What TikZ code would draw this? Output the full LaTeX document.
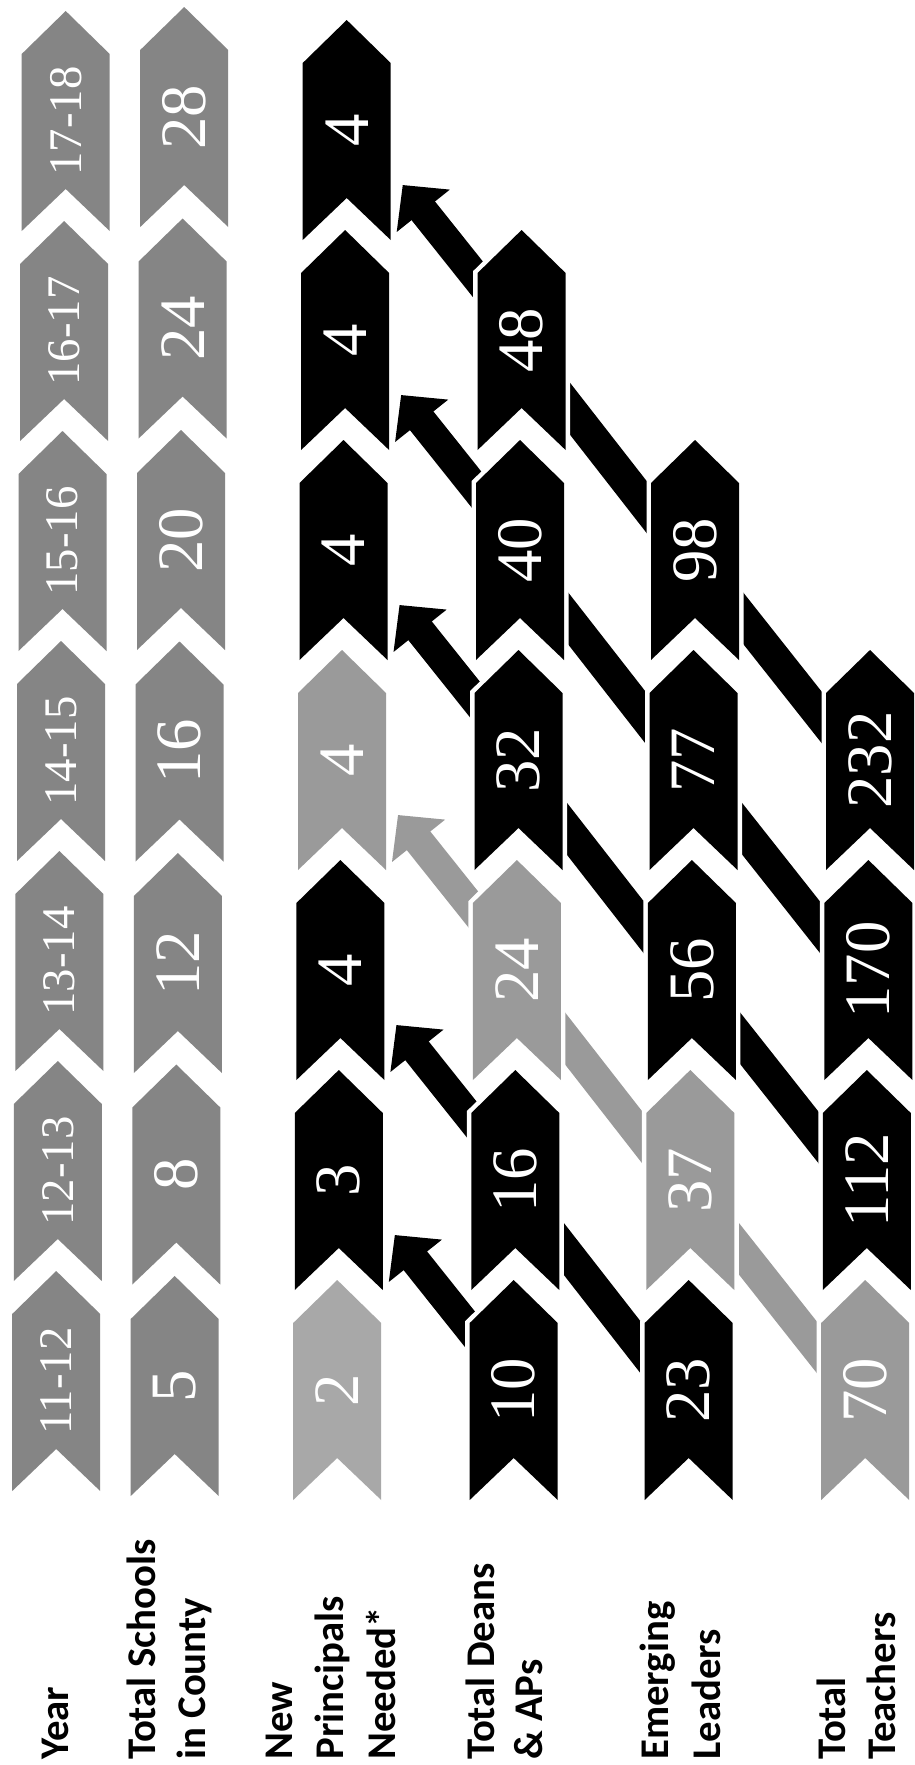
\documentclass[tikz,border=0pt]{standalone}
\usepackage{fontspec}
\newfontfamily\numfont{Liberation Serif}
\newfontfamily\lblfont{Carlito}
\usetikzlibrary{arrows.meta,calc}
\pgfdeclarelayer{bg}
\pgfdeclarelayer{links}
\pgfsetlayers{bg,links,main}
\definecolor{gyear}{HTML}{858585}
\definecolor{glight}{HTML}{A8A8A8}
\definecolor{gmid}{HTML}{9A9A9A}
\tikzset{
  chevfill/.style={fill=#1, preaction={draw=white, line width=0.18cm, line join=miter}},
  numtext/.style={text=white, inner sep=0pt, rotate=90, font=\numfont\fontsize{36.85pt}{40pt}\selectfont},
  yeartext/.style={text=white, inner sep=0pt, rotate=90, font=\numfont\fontsize{26.6pt}{30pt}\selectfont},
  lbltext/.style={text=black, inner sep=0pt, rotate=90, anchor=base west, font=\lblfont\bfseries\fontsize{23.2pt}{26pt}\selectfont},
  promote/.style={draw=#1, line width=0.6cm, -{Triangle[length=6.6mm,width=13.2mm]}},
  feeder/.style={draw=#1, line width=0.64cm},
}
\newcommand{\chev}[6]{%
  \path[chevfill=#4] (#2,#3) -- ++(44,43) -- ++(0,177) -- ++(-44,-42) -- ++(-44,42) -- ++(0,-177) -- cycle;
  \node[#5] (#1) at (#2,#3+110) {#6};
}
\begin{document}
\begin{tikzpicture}[x=0.02cm,y=-0.02cm]
\begin{pgfonlayer}{bg}
\fill[white] (0,0) rectangle (914,1765);
\end{pgfonlayer}
\useasboundingbox (0,0) rectangle (914,1765);

% Year column
\chev{y0}{65.7}{11}{gyear}{yeartext}{17-18}
\chev{y1}{64.1}{221}{gyear}{yeartext}{16-17}
\chev{y2}{62.5}{431}{gyear}{yeartext}{15-16}
\chev{y3}{61}{641}{gyear}{yeartext}{14-15}
\chev{y4}{59.4}{851}{gyear}{yeartext}{13-14}
\chev{y5}{57.8}{1061}{gyear}{yeartext}{12-13}
\chev{y6}{56.2}{1271}{gyear}{yeartext}{11-12}
% Total schools
\chev{s0}{184.2}{7}{gyear}{numtext}{28}
\chev{s1}{182.6}{218.5}{gyear}{numtext}{24}
\chev{s2}{181}{430}{gyear}{numtext}{20}
\chev{s3}{179.5}{641.5}{gyear}{numtext}{16}
\chev{s4}{177.9}{853}{gyear}{numtext}{12}
\chev{s5}{176.3}{1064.5}{gyear}{numtext}{8}
\chev{s6}{174.7}{1276}{gyear}{numtext}{5}
% New principals
\chev{p0}{346.7}{20}{black}{numtext}{4}
\chev{p1}{345.1}{230}{black}{numtext}{4}
\chev{p2}{343.5}{440}{black}{numtext}{4}
\chev{p3}{342}{650}{gmid}{numtext}{4}
\chev{p4}{340.4}{860}{black}{numtext}{4}
\chev{p5}{338.8}{1070}{black}{numtext}{3}
\chev{p6}{337.2}{1280}{glight}{numtext}{2}
% Deans & APs
\chev{d1}{521.6}{230}{black}{numtext}{48}
\chev{d2}{520}{440}{black}{numtext}{40}
\chev{d3}{518.5}{650}{black}{numtext}{32}
\chev{d4}{516.9}{860}{gmid}{numtext}{24}
\chev{d5}{515.3}{1070}{black}{numtext}{16}
\chev{d6}{513.7}{1280}{black}{numtext}{10}
% Emerging leaders
\chev{e2}{695}{440}{black}{numtext}{98}
\chev{e3}{693.5}{650}{black}{numtext}{77}
\chev{e4}{691.9}{860}{black}{numtext}{56}
\chev{e5}{690.3}{1070}{gmid}{numtext}{37}
\chev{e6}{688.7}{1280}{black}{numtext}{23}
% Teachers
\chev{t3}{870}{650}{black}{numtext}{232}
\chev{t4}{868.4}{860}{black}{numtext}{170}
\chev{t5}{866.8}{1070}{black}{numtext}{112}
\chev{t6}{865.2}{1280}{gmid}{numtext}{70}

% Row labels
\node[lbltext] (lyear) at (68,1760) {Year};
\node[lbltext] (ls1) at (155,1760) {Total Schools};
\node[lbltext] (ls2) at (205,1760) {in County};
\node[lbltext] (lp1) at (292,1760) {New};
\node[lbltext] (lp2) at (343,1760) {Principals};
\node[lbltext] (lp3) at (395,1760) {Needed*};
\node[lbltext] (ld1) at (494,1760) {Total Deans};
\node[lbltext] (ld2) at (542,1760) {\& APs};
\node[lbltext] (le1) at (668,1760) {Emerging};
\node[lbltext] (le2) at (720,1760) {Leaders};
\node[lbltext] (lt1) at (845,1760) {Total};
\node[lbltext] (lt2) at (895,1760) {Teachers};

\begin{pgfonlayer}{links}
% deans -> principals
\draw[promote=black] ($(d1.center)+(-24,-36)$) -- ($(p0.center)+(56,55)$);
\draw[promote=black] ($(d2.center)+(-24,-36)$) -- ($(p1.center)+(56,55)$);
\draw[promote=black] ($(d3.center)+(-24,-36)$) -- ($(p2.center)+(56,55)$);
\draw[promote=gmid]  ($(d4.center)+(-24,-36)$) -- ($(p3.center)+(56,55)$);
\draw[promote=black] ($(d5.center)+(-24,-36)$) -- ($(p4.center)+(56,55)$);
\draw[promote=black] ($(d6.center)+(-24,-36)$) -- ($(p5.center)+(56,55)$);
% emerging -> deans
\draw[feeder=black] ($(d1.center)+(33.4,49.5)$) -- ($(e2.center)+(-32.4,-22.5)$);
\draw[feeder=black] ($(d2.center)+(33.4,49.5)$) -- ($(e3.center)+(-32.4,-22.5)$);
\draw[feeder=black] ($(d3.center)+(33.4,49.5)$) -- ($(e4.center)+(-32.4,-22.5)$);
\draw[feeder=gmid]  ($(d4.center)+(33.4,49.5)$) -- ($(e5.center)+(-32.4,-22.5)$);
\draw[feeder=black] ($(d5.center)+(33.4,49.5)$) -- ($(e6.center)+(-32.4,-22.5)$);
% teachers -> emerging
\draw[feeder=black] ($(e2.center)+(33.4,49.5)$) -- ($(t3.center)+(-32.4,-22.5)$);
\draw[feeder=black] ($(e3.center)+(33.4,49.5)$) -- ($(t4.center)+(-32.4,-22.5)$);
\draw[feeder=black] ($(e4.center)+(33.4,49.5)$) -- ($(t5.center)+(-32.4,-22.5)$);
\draw[feeder=gmid]  ($(e5.center)+(33.4,49.5)$) -- ($(t6.center)+(-32.4,-22.5)$);
\end{pgfonlayer}
\end{tikzpicture}
\end{document}
